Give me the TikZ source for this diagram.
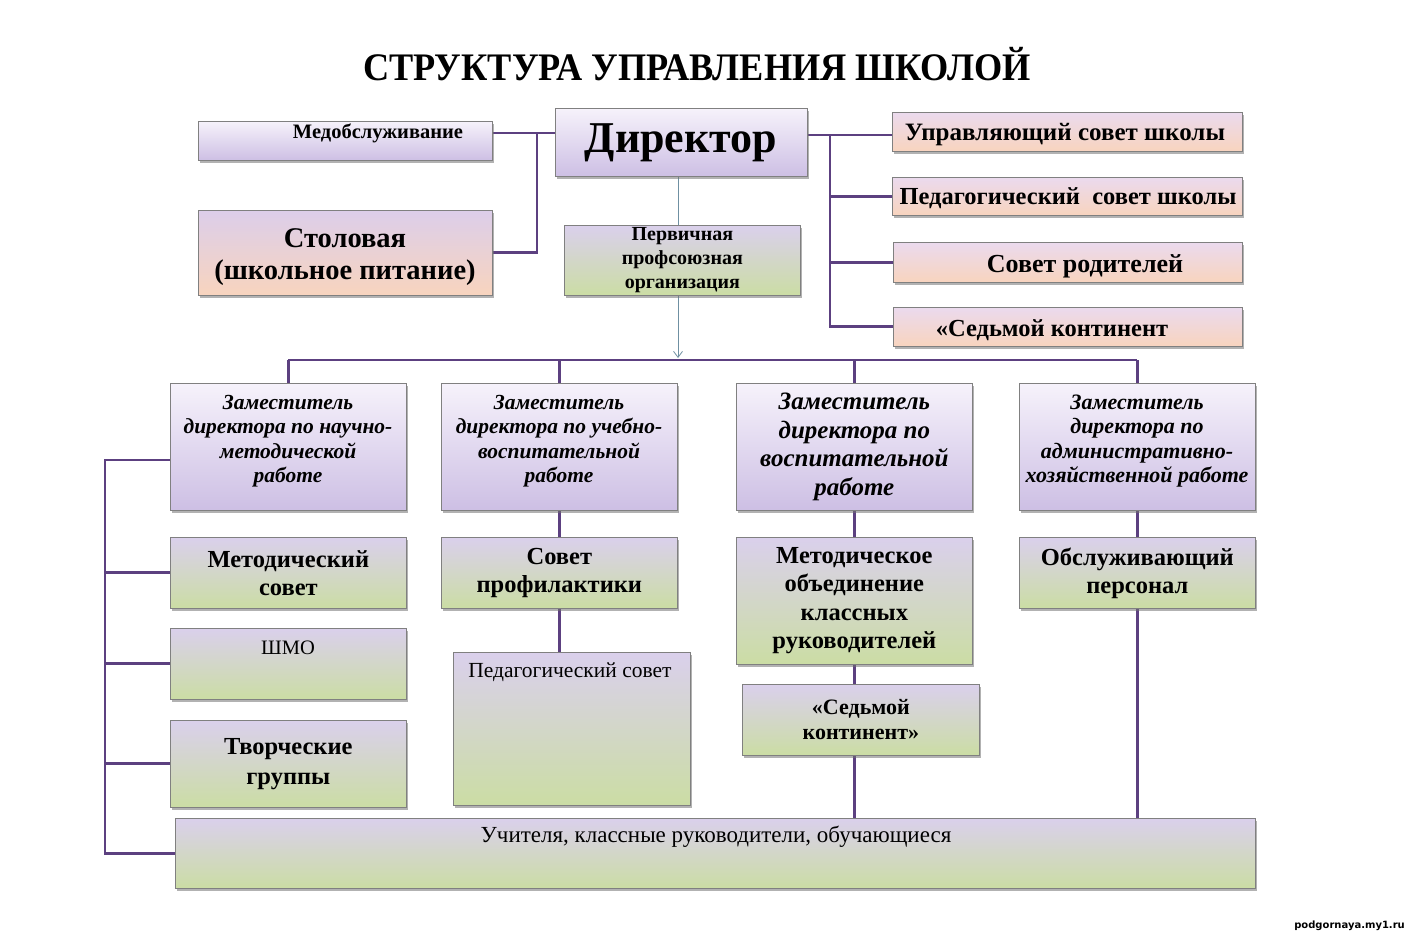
\documentclass[tikz,border=0pt]{standalone}
\usepackage{fontspec}
\setmainfont{Liberation Serif}
\newfontfamily\cond[FakeStretch=0.85]{Liberation Serif}
\newfontfamily\titlefont[FakeStretch=0.93]{Liberation Serif}
\newfontfamily\wmfont{DejaVu Sans}
\usetikzlibrary{shadows,backgrounds,arrows.meta,calc}
\definecolor{lavT}{HTML}{F6F2FB}
\definecolor{lavB}{HTML}{CDBFE4}
\definecolor{grnT}{HTML}{DAD0EC}
\definecolor{grnB}{HTML}{CBDDA4}
\definecolor{pchT}{HTML}{EBDAEE}
\definecolor{pchB}{HTML}{F8D4BE}
\definecolor{stlT}{HTML}{DCCEEA}
\definecolor{conncol}{HTML}{5C4080}
\definecolor{arrcol}{HTML}{6F90A2}
\newcommand\fsz[2]{\fontsize{#1}{#2}\selectfont}
\tikzset{
  box/.style={draw=black!50, line width=0.7pt, anchor=north west, align=center, inner sep=2pt,
    drop shadow={shadow xshift=1.8pt, shadow yshift=-2.2pt, fill=black!55, opacity=0.55}},
  lav/.style={box, top color=lavT, bottom color=lavB},
  grn/.style={box, top color=grnT, bottom color=grnB},
  pch/.style={box, top color=pchT, bottom color=pchB},
  stl/.style={box, top color=stlT, bottom color=pchB},
  conn/.style={draw=conncol, line width=2.9pt},
  thinarr/.style={draw=arrcol, line width=0.8pt},
  txt/.style={inner sep=0pt, align=center},
}
% style, name, corner, width, height, font, text
\newcommand\bx[7]{\node[#1, minimum width=#4pt, minimum height=#5pt, font=#6] (#2) at (#3) {#7};}
\begin{document}
\begin{tikzpicture}[x=1pt,y=-1pt]
\useasboundingbox (0,0) rectangle (1408,936);
\begin{scope}[on background layer]
  \fill[white] (0,0) rectangle (1408,936);
\end{scope}
% title
\node[txt, font=\titlefont\bfseries\fsz{39}{40}] (title) at (697,64) {СТРУКТУРА УПРАВЛЕНИЯ ШКОЛОЙ};
% top row
\bx{lav}{med}{198,121}{294}{39}{}{}
\node[txt, font=\bfseries\fsz{20.5}{22}] (medT) at (378,133) {Медобслуживание};
\bx{lav}{dir}{555,108}{252}{68}{}{}
\node[txt, font=\bfseries\fsz{44}{46}] (dirT) at (681,143) {Директор};
\bx{stl}{stol}{198,210}{294}{85}{}{}
\node[txt, font=\bfseries\fsz{28.5}{32}] (stolT) at (345,257) {Столовая\\(школьное питание)};
\bx{grn}{prof}{564,225}{236}{70}{\bfseries\fsz{20}{24}}{Первичная\\профсоюзная\\организация}
\bx{pch}{r1}{892,112}{350}{39}{}{}
\node[txt, font=\bfseries\fsz{25}{26}] (r1T) at (1065,135) {Управляющий совет школы};
\bx{pch}{r2}{892,177}{350}{38}{}{}
\node[txt, font=\bfseries\fsz{24.5}{26}] (r2T) at (1068,198) {Педагогический\ \ совет школы};
\bx{pch}{r3}{893,242}{349}{40}{}{}
\node[txt, font=\bfseries\fsz{26}{28}] (r3T) at (1085,266) {Совет родителей};
\bx{pch}{r4}{893,307}{349}{39}{}{}
\node[txt, font=\bfseries\fsz{24.5}{26}] (r4T) at (1052,330) {«Седьмой континент};
% deputies
\bx{lav}{d1}{170,383}{236}{127}{}{}
\node[txt, font=\bfseries\itshape\fsz{21.5}{24.5}] (d1T) at (288,441) {Заместитель\\директора по научно-\\методической\\работе};
\bx{lav}{d2}{441,383}{236}{127}{}{}
\node[txt, font=\bfseries\itshape\fsz{21.5}{24.5}] (d2T) at (559,441) {Заместитель\\директора по учебно-\\воспитательной\\работе};
\bx{lav}{d3}{736,383}{236}{127}{\bfseries\itshape\fsz{25}{28.5}}{Заместитель\\директора по\\воспитательной\\работе}
\bx{lav}{d4}{1019,383}{236}{127}{}{}
\node[txt, font=\bfseries\itshape\fsz{22}{24.5}] (d4T) at (1137,441) {Заместитель\\директора по\\административно-\\хозяйственной работе};
% second row
\bx{grn}{mets}{170,537}{236}{71}{\bfseries\fsz{24.5}{28}}{Методический\\совет}
\bx{grn}{prev}{441,537}{236}{71}{\bfseries\fsz{24.5}{28}}{Совет\\профилактики}
\bx{grn}{moc}{736,537}{236}{127}{\bfseries\fsz{24.5}{28.5}}{Методическое\\объединение\\классных\\руководителей}
\bx{grn}{staff}{1019,537}{236}{71}{\bfseries\fsz{24.5}{28}}{Обслуживающий\\персонал}
\bx{grn}{shmo}{170,628}{236}{71}{}{}
\node[txt, font=\fsz{20.5}{22}] (shmoT) at (288,648) {ШМО};
\bx{grn}{tvor}{170,720}{236}{87}{\bfseries\fsz{24.5}{30}}{Творческие\\группы}
\bx{grn}{ped}{453,652}{237}{153}{}{}
\node[txt, font=\fsz{21.5}{22}] (pedT) at (570,672) {Педагогический совет};
\bx{grn}{sed}{742,684}{237}{71}{\bfseries\fsz{22}{25}}{«Седьмой\\континент»}
\bx{grn}{uch}{175,818}{1080}{70}{}{}
\node[txt, font=\fsz{23}{24}] (uchT) at (716,837) {Учителя, классные руководители, обучающиеся};
% watermark
\node[txt, font=\wmfont\bfseries\fsz{10}{11}, anchor=east] (wm) at (1405,926) {podgornaya.my1.ru};
% connectors
\begin{scope}[on background layer]
  \coordinate (jl) at (537,133);
  \draw[conn] (jl -| med.east) -- (jl) -- (jl -| dir.west);
  \draw[conn] (jl) |- (stol.east);
  \coordinate (jr) at (830,135);
  \draw[conn] (jr -| dir.east) -- (jr) |- (r4.west);
  \draw[conn] (jr) -- (jr -| r1.west);
  \draw[conn] (jr |- r2.west) -- (r2.west);
  \draw[conn] (jr |- r3.west) -- (r3.west);
  \coordinate (bus) at (678,360);
  \draw[thinarr, -{Straight Barb[length=6pt,width=9pt]}] (dir.south -| bus) -- ($(bus)+(0,-2)$);
  \draw[conn] (bus -| d1.north) -- (bus -| d4.north);
  \draw[conn] (bus -| d1.north) -- (d1.north);
  \draw[conn] (bus -| d2.north) -- (d2.north);
  \draw[conn] (bus -| d3.north) -- (d3.north);
  \draw[conn] (bus -| d4.north) -- (d4.north);
  \coordinate (lv) at (105,460);
  \draw[conn] (lv -| d1.west) -- (lv) |- (uch.west);
  \draw[conn] (lv |- mets.west) -- (mets.west);
  \draw[conn] (lv |- shmo.west) -- (shmo.west);
  \draw[conn] (lv |- tvor.west) -- (tvor.west);
  \draw[conn] (d2.south) -- (prev.north);
  \draw[conn] (prev.south) -- (prev.south |- ped.north);
  \draw[conn] (d3.south) -- (moc.north);
  \draw[conn] (moc.south) -- (moc.south |- sed.north);
  \draw[conn] (moc.south |- sed.south) -- (moc.south |- uch.north);
  \draw[conn] (d4.south) -- (staff.north);
  \draw[conn] (staff.south) -- (staff.south |- uch.north);
\end{scope}
\end{tikzpicture}
\end{document}
